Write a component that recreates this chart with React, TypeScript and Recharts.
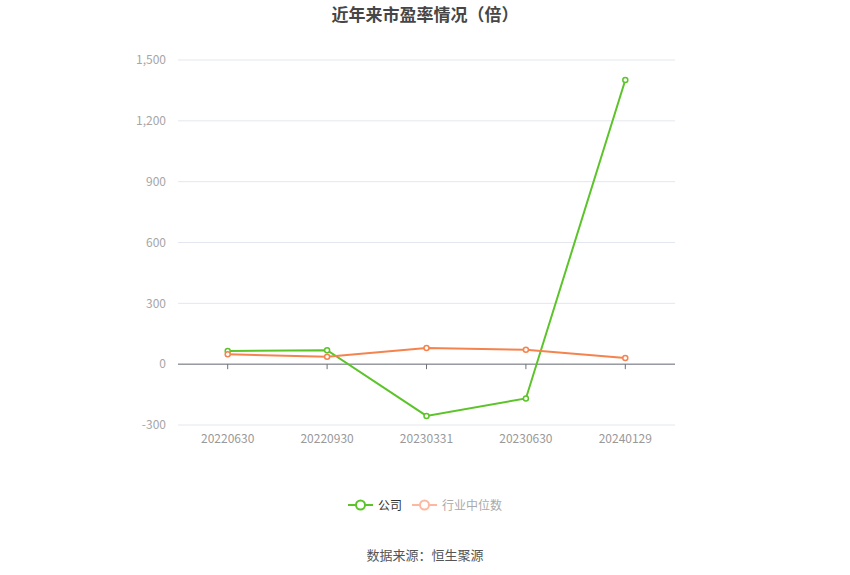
import { LineChart, Line, XAxis, YAxis, CartesianGrid, ReferenceLine, Legend } from "recharts";

const periods = ["20220630", "20220930", "20230331", "20230630", "20240129"];
const companyPE = [65, 69, -255, -169, 1401];
const industryPE = [49, 36, 80, 71, 31];
const yTicks = [-300, 0, 300, 600, 900, 1200, 1500];

const GREEN = "#5cc42a";
const ORANGE = "#f5834e";
const FONT = "'Noto Sans CJK SC', 'Noto Sans', sans-serif";

const W = 850;
const H = 575;
const M = { top: 60, right: 175, bottom: 120, left: 0 };
const Y_MIN = -300;
const Y_MAX = 1500;
const PLOT_H = H - M.top - M.bottom - 30;

const chartData = periods.map((p, i) => ({ period: p, company: companyPE[i], industry: industryPE[i] }));

// the x axis line sits at y = 0, so tick marks are drawn there
const zeroOffset = (PLOT_H * (0 - Y_MIN)) / (Y_MAX - Y_MIN);

function XTick(props: any) {
  const { x, payload } = props;
  const axisTop = M.top + PLOT_H;
  const zeroY = axisTop - zeroOffset;
  return (
    <g>
      <line x1={x} x2={x} y1={zeroY} y2={zeroY + 5} stroke="#6e7079" />
      <text x={x} y={axisTop + 18} textAnchor="middle" fill="#999" fontSize={12} fontFamily={FONT}>
        {payload.value}
      </text>
    </g>
  );
}

function LegendContent() {
  const items = [
    { name: "公司", color: GREEN, text: "#333" },
    { name: "行业中位数", color: "#fdb9a0", text: "#aaa" },
  ];
  return (
    <div style={{ display: "flex", justifyContent: "center", gap: 10, fontFamily: FONT, fontSize: 12 }}>
      {items.map((it) => (
        <div key={it.name} style={{ display: "flex", alignItems: "center", gap: 5 }}>
          <svg width={25} height={14}>
            <line x1={0} x2={25} y1={7} y2={7} stroke={it.color} strokeWidth={2} />
            <circle cx={12.5} cy={7} r={4.5} fill="#fff" stroke={it.color} strokeWidth={2} />
          </svg>
          <span style={{ color: it.text }}>{it.name}</span>
        </div>
      ))}
    </div>
  );
}

export default function App() {
  return (
    <div style={{ position: "absolute", left: 0, top: 0, width: W, height: H, background: "#fff" }}>
      <div
        style={{
          position: "absolute",
          top: 1,
          width: W,
          textAlign: "center",
          fontFamily: FONT,
          fontWeight: "bold",
          fontSize: 17,
          color: "#464646",
        }}
      >
        近年来市盈率情况（倍）
      </div>
      <LineChart width={W} height={H} data={chartData} margin={M}>
        <CartesianGrid vertical={false} stroke="#e3e7ef" />
        <XAxis
          dataKey="period"
          scale="band"
          axisLine={false}
          tickLine={false}
          height={30}
          tick={<XTick />}
          interval={0}
        />
        <YAxis
          width={178}
          domain={[Y_MIN, Y_MAX]}
          ticks={yTicks}
          axisLine={false}
          tickLine={false}
          tickMargin={6}
          tick={{ fill: "#a6a6a6", fontSize: 12, fontFamily: FONT }}
          tickFormatter={(v: number) => v.toLocaleString("en-US")}
        />
        <ReferenceLine y={0} stroke="#6e7079" />
        <Legend
          layout="horizontal"
          verticalAlign="middle"
          align="center"
          wrapperStyle={{ top: 496, left: 0, width: W }}
          content={<LegendContent />}
        />
        <Line
          dataKey="company"
          name="公司"
          stroke={GREEN}
          strokeWidth={2}
          dot={{ r: 2.5, fill: "#fff", stroke: GREEN, strokeWidth: 1.5 }}
          isAnimationActive={false}
        />
        <Line
          dataKey="industry"
          name="行业中位数"
          stroke={ORANGE}
          strokeWidth={2}
          dot={{ r: 2.5, fill: "#fff", stroke: ORANGE, strokeWidth: 1.5 }}
          isAnimationActive={false}
        />
      </LineChart>
      <div
        style={{
          position: "absolute",
          top: 545,
          width: W,
          textAlign: "center",
          fontFamily: FONT,
          fontSize: 13,
          color: "#555",
        }}
      >
        数据来源：恒生聚源
      </div>
    </div>
  );
}
